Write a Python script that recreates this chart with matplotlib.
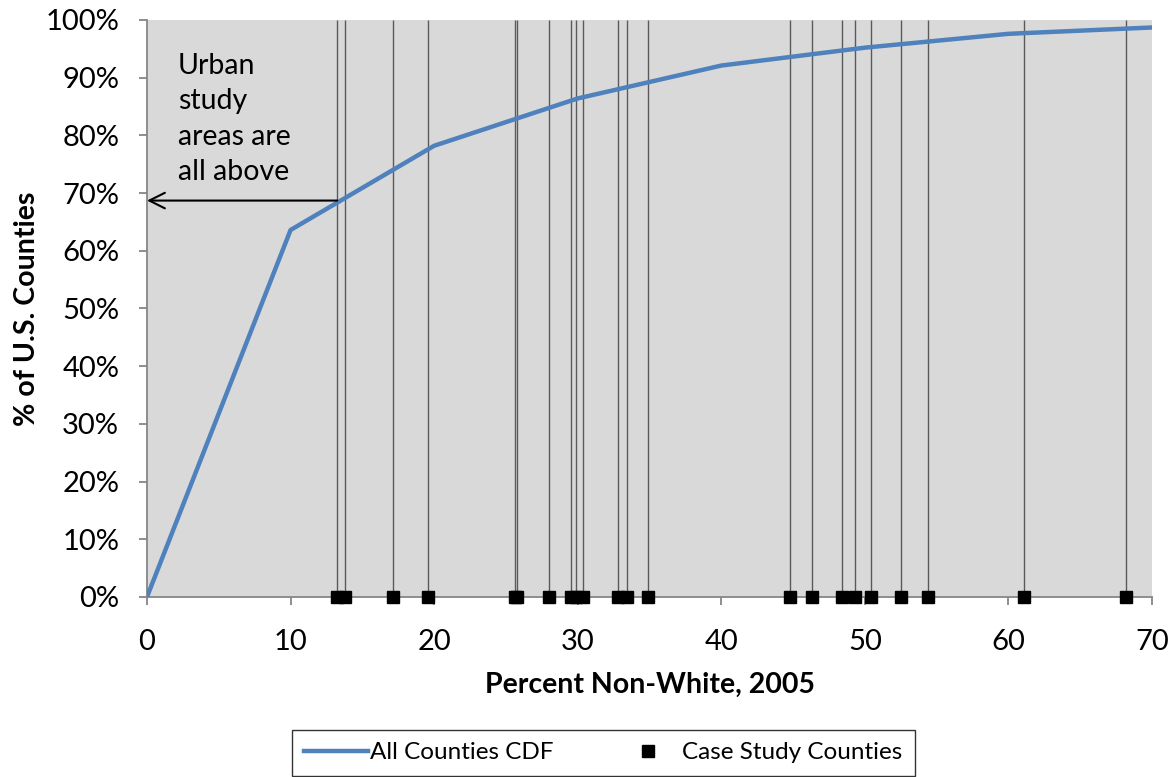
import matplotlib.pyplot as plt
from matplotlib.lines import Line2D

plt.rcParams['font.family'] = ['Lato', 'DejaVu Sans']

# cumulative share of all U.S. counties vs percent non-white
cdf_x = [0, 10, 20, 30, 40, 50, 60, 70]
cdf_y = [0, 63.6, 78.2, 86.4, 92.1, 95.2, 97.6, 98.7]

# percent non-white of each case study county
case_x = [13.2, 13.8, 17.1, 19.6, 25.6, 25.8, 28.0, 29.5, 29.9, 30.4, 32.8,
          33.4, 34.9, 44.8, 46.3, 48.4, 49.3, 50.4, 52.5, 54.4, 61.1, 68.2]
case_y = [0] * len(case_x)

fig = plt.figure(figsize=(11.74, 7.77), dpi=100)
ax = fig.add_axes([0.1252, 0.2317, 0.8561, 0.7426])
ax.set_facecolor('#d9d9d9')

ax.vlines(case_x, 0, 100, colors='#5a5a5a', linewidth=1.0, zorder=2)
ax.plot(cdf_x, cdf_y, color='#4f81bd', linewidth=3.2, zorder=3,
        solid_capstyle='round')
ax.plot(case_x, case_y, linestyle='none', marker='s', markersize=8,
        color='black', clip_on=False, zorder=4)

ax.annotate('', xy=(0, 68.7), xytext=(13.25, 68.7),
            arrowprops=dict(arrowstyle='->', color='black', lw=1.5,
                            mutation_scale=28, shrinkA=0, shrinkB=0),
            zorder=5)
ax.text(2.15, 94.3, 'Urban\nstudy\nareas are\nall above', fontsize=20.5,
        va='top', ha='left', linespacing=1.45)

ax.set_xlim(0, 70)
ax.set_ylim(0, 100)
ax.set_xticks(range(0, 71, 10))
ax.set_yticks(range(0, 101, 10))
ax.set_yticklabels([f'{v}%' for v in range(0, 101, 10)])
ax.tick_params(axis='both', direction='out', length=6, width=1.3,
               color='#868686', labelsize=21)
ax.tick_params(axis='y', pad=14)
ax.tick_params(axis='x', pad=17)

for side in ('top', 'right'):
    ax.spines[side].set_visible(False)
for side in ('left', 'bottom'):
    ax.spines[side].set_color('#868686')
    ax.spines[side].set_linewidth(1.3)

ax.set_xlabel('Percent Non-White, 2005', fontsize=20.5, fontweight='bold',
              labelpad=12)
ax.set_ylabel('% of U.S. Counties', fontsize=20.5, fontweight='bold',
              labelpad=4)

handles = [Line2D([], [], color='#4f81bd', linewidth=3.2),
           Line2D([], [], color='black', marker='s', linestyle='none',
                  markersize=8)]
leg = fig.legend(handles, ['All Counties CDF', 'Case Study Counties'],
                 loc='center', bbox_to_anchor=(0.514, 0.031), ncol=2,
                 fontsize=17.5, frameon=True, fancybox=False,
                 handlelength=2.6, handletextpad=0.1, columnspacing=2.6,
                 borderpad=0.5)
leg.get_frame().set_edgecolor('black')
leg.get_frame().set_linewidth(1.0)

fig.savefig('out.png', dpi=100)
